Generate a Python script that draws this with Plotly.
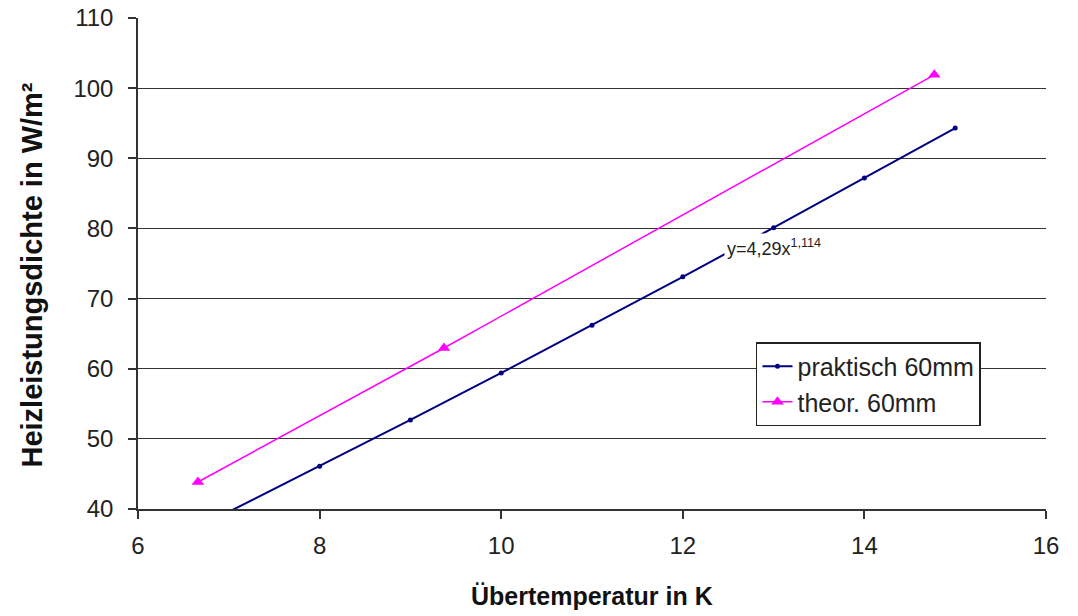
import plotly.graph_objects as go

# Data
x_prakt = [7, 8, 9, 10, 11, 12, 13, 14, 15]
y_prakt = [39.6, 46.1, 52.7, 59.4, 66.2, 73.1, 80.1, 87.2, 94.3]

x_theor = [6.66, 9.37, 14.77]
y_theor = [43.85, 62.95, 101.9]

x_ticks = [6, 8, 10, 12, 14, 16]
y_ticks = [40, 50, 60, 70, 80, 90, 100, 110]

FONT = "Arial, Liberation Sans, sans-serif"

fig = go.Figure()
fig.add_trace(go.Scatter(
    x=x_prakt, y=y_prakt, mode="lines+markers", name="praktisch 60mm",
    line=dict(color="#000080", width=2),
    marker=dict(symbol="circle", size=5, color="#000080"),
    cliponaxis=True,
))
fig.add_trace(go.Scatter(
    x=x_theor, y=y_theor, mode="lines+markers", name="theor. 60mm",
    line=dict(color="#FF00FF", width=1.5),
    marker=dict(symbol="triangle-up", size=11, color="#FF00FF"),
    cliponaxis=False,
))

fig.add_annotation(
    x=13.0, y=77.3, xref="x", yref="y",
    text="y=4,29x<sup>1,114</sup>", showarrow=False,
    font=dict(family=FONT, size=18, color="#222222"),
    bgcolor="white", borderpad=2,
)

# axis titles as annotations for exact placement
fig.add_annotation(
    x=0.5, y=-0.177, xref="paper", yref="paper",
    xanchor="center", yanchor="middle", showarrow=False,
    text="<b>Übertemperatur in K</b>",
    font=dict(family=FONT, size=25, color="#111111"),
)
fig.add_annotation(
    x=-0.117, y=0.477, xref="paper", yref="paper",
    xanchor="center", yanchor="middle", showarrow=False, textangle=-90,
    text="<b>Heizleistungsdichte in W/m²</b>",
    font=dict(family=FONT, size=29, color="#111111"),
)

fig.update_layout(
    width=1078, height=616,
    margin=dict(l=138, r=32, t=18, b=107, autoexpand=False),
    paper_bgcolor="white", plot_bgcolor="white",
    font=dict(family=FONT, color="#222222"),
    showlegend=True,
    legend=dict(
        x=0.6806, y=0.340, xanchor="left", yanchor="top",
        bgcolor="white", bordercolor="#222222", borderwidth=1.5,
        font=dict(family=FONT, size=25, color="#222222"),
        itemwidth=30, tracegroupgap=0,
    ),
    xaxis=dict(
        range=[6, 16], tickvals=x_ticks, ticktext=[str(v) for v in x_ticks],
        showgrid=False, zeroline=False, automargin=False,
        showline=True, linecolor="#333333", linewidth=1.5,
        ticks="outside", ticklen=8, tickcolor="#333333", tickwidth=1.5,
        tickfont=dict(family=FONT, size=24, color="#222222"),
        ticklabelstandoff=6,
    ),
    yaxis=dict(
        range=[40, 110], tickvals=y_ticks, ticktext=[str(v) for v in y_ticks],
        showgrid=True, gridcolor="#333333", gridwidth=1.3, zeroline=False,
        automargin=False,
        showline=True, linecolor="#333333", linewidth=1.5,
        ticks="outside", ticklen=8, tickcolor="#333333", tickwidth=1.5,
        tickfont=dict(family=FONT, size=24, color="#222222"),
        ticklabelstandoff=10,
    ),
)

# remove the default 8px page margin so the figure sits at the window origin
fig.write_html(
    "out.html",
    config={"displayModeBar": False},
    post_script="document.body.style.margin='0';document.body.style.overflow='hidden';",
)
